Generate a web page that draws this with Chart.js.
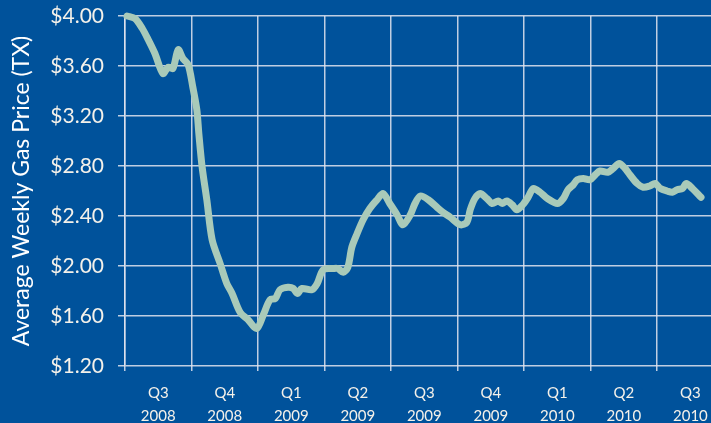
<!DOCTYPE html>
<html>
<head>
<meta charset="utf-8">
<script src="https://cdn.jsdelivr.net/npm/chart.js@4"></script>
<style>
  html, body { margin: 0; padding: 0; background: #00529b; overflow: hidden; }
  #wrap { width: 711px; height: 423px; position: relative; }
</style>
</head>
<body>
<div id="wrap"><canvas id="c"></canvas></div>
<script>
// Quarter labels (each category spans one quarter)
const quarterLabels = [
  ['Q3', '2008'], ['Q4', '2008'], ['Q1', '2009'], ['Q2', '2009'], ['Q3', '2009'],
  ['Q4', '2009'], ['Q1', '2010'], ['Q2', '2010'], ['Q3', '2010']
];
// Time position measured in quarters since start of Q3 2008
const weekPos = [
  0.03, 0.15, 0.26, 0.35, 0.45, 0.57, 0.65, 0.72, 0.80, 0.87, 0.95, 1.02, 1.08, 1.11, 1.16,
  1.23, 1.31, 1.43, 1.53, 1.61, 1.73, 1.85, 1.98, 2.08, 2.18, 2.26, 2.33, 2.45, 2.53, 2.59,
  2.66, 2.81, 2.89, 2.98, 3.13, 3.20, 3.28, 3.35, 3.41, 3.49, 3.58, 3.68, 3.79, 3.88, 3.98,
  4.09, 4.18, 4.29, 4.36, 4.44, 4.56, 4.69, 4.78, 4.89, 5.04, 5.14, 5.19, 5.26, 5.34, 5.44,
  5.52, 5.61, 5.67, 5.74, 5.82, 5.89, 5.98, 6.06, 6.14, 6.24, 6.35, 6.50, 6.59, 6.66, 6.74,
  6.80, 6.89, 6.99, 7.07, 7.14, 7.26, 7.34, 7.43, 7.52, 7.59, 7.70, 7.79, 7.89, 7.97, 8.05,
  8.15, 8.23, 8.30, 8.38, 8.44, 8.53, 8.66
];
// Average weekly gas price (TX), dollars
const gasPrice = [
  4.00, 3.98, 3.90, 3.81, 3.70, 3.54, 3.59, 3.58, 3.73, 3.66, 3.61, 3.43, 3.25, 3.06, 2.79,
  2.53, 2.21, 2.02, 1.86, 1.78, 1.63, 1.57, 1.50, 1.61, 1.73, 1.74, 1.81, 1.83, 1.82, 1.78,
  1.82, 1.81, 1.86, 1.97, 1.98, 1.98, 1.95, 1.99, 2.15, 2.26, 2.37, 2.46, 2.53, 2.58, 2.50,
  2.41, 2.33, 2.41, 2.50, 2.56, 2.53, 2.47, 2.43, 2.39, 2.33, 2.35, 2.45, 2.54, 2.58, 2.54,
  2.50, 2.52, 2.50, 2.52, 2.49, 2.45, 2.49, 2.55, 2.62, 2.59, 2.54, 2.50, 2.54, 2.61, 2.65,
  2.69, 2.70, 2.69, 2.73, 2.76, 2.75, 2.78, 2.82, 2.78, 2.73, 2.66, 2.63, 2.64, 2.66, 2.62,
  2.60, 2.59, 2.61, 2.62, 2.66, 2.62, 2.55
];
const yMin = 1.20, yMax = 4.00, yStep = 0.40;
const yTitle = 'Average Weekly Gas Price (TX)';

const points = weekPos.map((x, i) => ({ x: x, y: gasPrice[i] }));
const gridCol = 'rgba(225,228,238,0.85)';
const textCol = '#f4f1ea';

new Chart(document.getElementById('c'), {
  type: 'line',
  data: {
    datasets: [{
      data: points,
      borderColor: '#a9cab9',
      borderWidth: 7,
      pointRadius: 0,
      tension: 0.3,
      borderCapStyle: 'round',
      borderJoinStyle: 'round',
      clip: false
    }]
  },
  options: {
    responsive: true,
    maintainAspectRatio: false,
    animation: false,
    layout: { padding: { top: 16, right: 0, bottom: 0, left: 0 } },
    plugins: { legend: { display: false }, tooltip: { enabled: false } },
    scales: {
      x: {
        type: 'linear',
        min: 0,
        max: 8.81,
        afterBuildTicks: (s) => {
          const t = [];
          for (let i = 0; i <= quarterLabels.length * 2 - 1; i++) t.push({ value: i / 2 });
          s.ticks = t;
        },
        afterFit: (s) => { s.height = 57; s.paddingLeft = 0; s.paddingRight = 0; },
        ticks: {
          autoSkip: false,
          maxRotation: 0,
          color: textCol,
          font: { family: 'Lato', size: 15, lineHeight: 1.5 },
          padding: 11,
          callback: (v) => {
            const k = Math.round(v * 2);
            if (k % 2 === 0) return '';
            return quarterLabels[(k - 1) / 2];
          }
        },
        grid: {
          color: (ctx) => (ctx.tick && Math.round(ctx.tick.value * 2) % 2 === 0) ? gridCol : 'rgba(0,0,0,0)',
          lineWidth: 1.5,
          tickLength: 5,
          drawTicks: true
        },
        border: { display: false }
      },
      y: {
        min: yMin,
        max: yMax,
        afterBuildTicks: (s) => {
          const t = [];
          for (let v = yMin; v <= yMax + 1e-9; v += yStep) t.push({ value: Math.round(v * 100) / 100 });
          s.ticks = t;
        },
        afterFit: (s) => { s.width = 125; s.paddingTop = 0; s.paddingBottom = 0; },
        ticks: {
          color: textCol,
          font: { family: 'Lato', size: 21 },
          padding: 14,
          callback: (v) => '$' + Number(v).toFixed(2)
        },
        grid: {
          color: gridCol,
          lineWidth: 1.5,
          tickLength: 7
        },
        border: { display: true, color: gridCol, width: 1.5 },
        title: {
          display: true,
          text: yTitle,
          color: '#ffffff',
          font: { family: 'Lato', size: 23 },
          padding: { top: 8, bottom: 0 }
        }
      }
    }
  }
});
</script>
</body>
</html>
